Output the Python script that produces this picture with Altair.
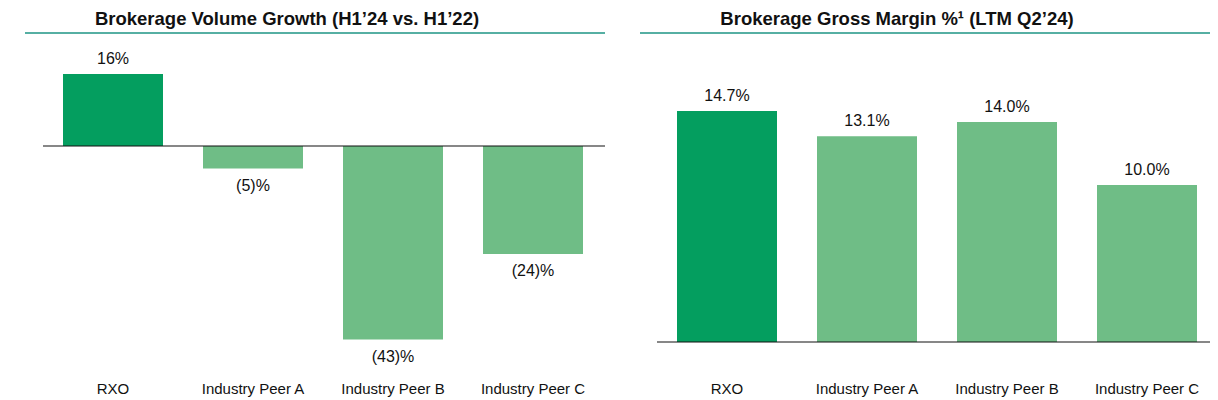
import altair as alt
import pandas as pd

categories = ["RXO", "Industry Peer A", "Industry Peer B", "Industry Peer C"]
volume_growth = [16, -5, -43, -24]
volume_labels = ["16%", "(5)%", "(43)%", "(24)%"]
gross_margin = [14.7, 13.1, 14.0, 10.0]
margin_labels = ["14.7%", "13.1%", "14.0%", "10.0%"]
title_left = "Brokerage Volume Growth (H1\u201924 vs. H1\u201922)"
title_right = "Brokerage Gross Margin %\u00b9 (LTM Q2\u201924)"

DARK = "#049e5f"
LIGHT = "#6fbd86"
TEAL = "#1e9484"
FONT = "Liberation Sans"

left_df = pd.DataFrame({"cat": categories, "v": volume_growth, "lab": volume_labels})
right_df = pd.DataFrame({"cat": categories, "v": gross_margin, "lab": margin_labels})

color = alt.Color("cat:N", scale=alt.Scale(domain=categories, range=[DARK, LIGHT, LIGHT, LIGHT]), legend=None)


def panel(df, x0, ydomain, yrange, title, title_x, rule_x0, rule_x1, zero_x0, zero_x1):
    xs = alt.X("cat:N", sort=categories, axis=None,
               scale=alt.Scale(domain=categories, range=[x0, x0 + 560], paddingInner=2 / 7, paddingOuter=1 / 7))
    ys = alt.Y("v:Q", axis=None, scale=alt.Scale(domain=ydomain, range=yrange, nice=False, zero=False))
    base = alt.Chart(df)
    bars = base.mark_bar(size=100).encode(x=xs, y=ys, y2=alt.datum(0), color=color)
    pos = base.transform_filter("datum.v >= 0").mark_text(
        font=FONT, fontSize=16, baseline="middle", dy=-15, color="#111111"
    ).encode(x=xs, y=ys, text="lab:N")
    neg = base.transform_filter("datum.v < 0").mark_text(
        font=FONT, fontSize=16, baseline="middle", dy=17, color="#111111"
    ).encode(x=xs, y=ys, text="lab:N")
    cats = base.mark_text(font=FONT, fontSize=15, baseline="middle", color="#111111").encode(
        x=xs, y=alt.value(381), text="cat:N")
    zero = alt.Chart(pd.DataFrame({"z": [0]})).mark_rule(color="#111111", strokeWidth=1.2).encode(
        x=alt.value(zero_x0), x2=alt.value(zero_x1),
        y=alt.Y("z:Q", axis=None, scale=alt.Scale(domain=ydomain, range=yrange, nice=False, zero=False)))
    trule = alt.Chart(pd.DataFrame({"t": [title]})).mark_rule(color=TEAL, strokeWidth=1.6).encode(
        x=alt.value(rule_x0), x2=alt.value(rule_x1), y=alt.value(25))
    ttext = alt.Chart(pd.DataFrame({"t": [title]})).mark_text(
        font=FONT, fontSize=18.5, fontWeight="bold", baseline="middle", color="#111111"
    ).encode(x=alt.value(title_x), y=alt.value(11), text="t:N")
    return alt.layer(trule, ttext, bars, zero, pos, neg, cats)


left = panel(left_df, 35, [-48, 24], [354, 30], title_left, 279, 17, 597, 35, 597)
right = panel(right_df, 649, [0, 16], [334, 82.6], title_right, 889, 632, 1210, 649, 1210)

chart = alt.layer(left, right).resolve_scale(x="independent", y="independent", color="shared").properties(
    width=1202, height=392, autosize=alt.AutoSizeParams(type="none"), padding=0,
    background="white"
).configure_view(stroke=None)

chart.save("out.html", embed_options={"renderer": "svg", "actions": False})
